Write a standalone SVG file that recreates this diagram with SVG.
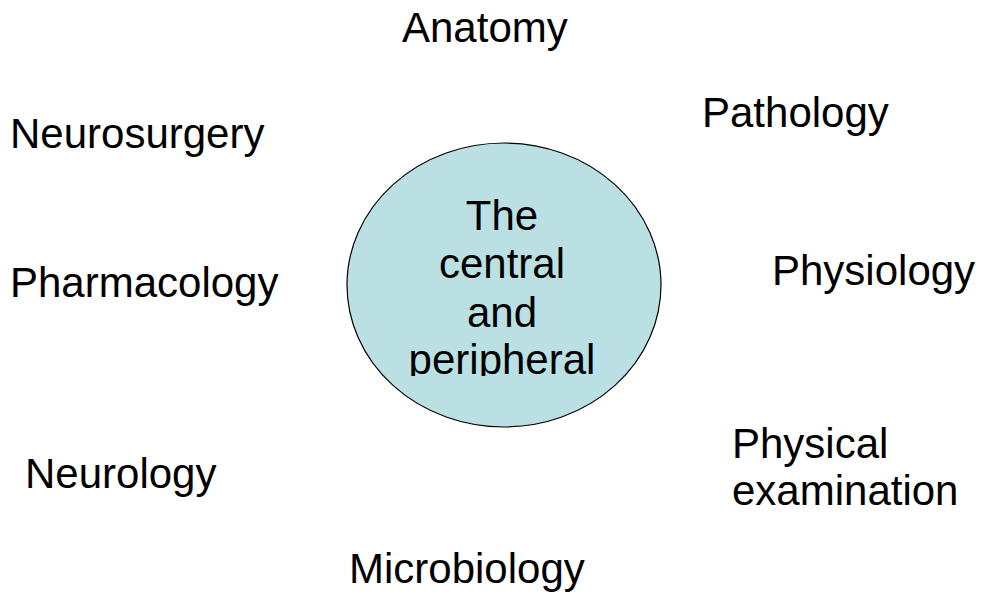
<svg xmlns="http://www.w3.org/2000/svg" width="984" height="598" viewBox="0 0 984 598">
<style>
text { font-family: "Liberation Sans", Arial, sans-serif; font-size: 42px; fill: #000; }
.c { text-anchor: middle; }
</style>
<defs>
<clipPath id="centerClip"><rect x="340" y="140" width="330" height="236"/></clipPath>
</defs>
<rect width="984" height="598" fill="#ffffff"/>
<g id="connectors"></g>
<g id="center">
<ellipse cx="504" cy="285" rx="157" ry="142" fill="#BAE0E3" stroke="#000" stroke-width="1.2"/>
<g clip-path="url(#centerClip)">
<text class="c" x="502" y="230">The</text>
<text class="c" x="502" y="278">central</text>
<text class="c" x="502" y="327">and</text>
<text class="c" x="502" y="374">peripheral</text>
</g>
</g>
<g id="anatomy"><text x="402" y="42">Anatomy</text></g>
<g id="neurosurgery"><text x="10" y="148">Neurosurgery</text></g>
<g id="pathology"><text x="702" y="127">Pathology</text></g>
<g id="pharmacology"><text x="10" y="297">Pharmacology</text></g>
<g id="physiology"><text x="772" y="285">Physiology</text></g>
<g id="neurology"><text x="25" y="488">Neurology</text></g>
<g id="physical-examination"><text x="732" y="458">Physical</text><text x="732" y="505">examination</text></g>
<g id="microbiology"><text x="349" y="583">Microbiology</text></g>
</svg>
